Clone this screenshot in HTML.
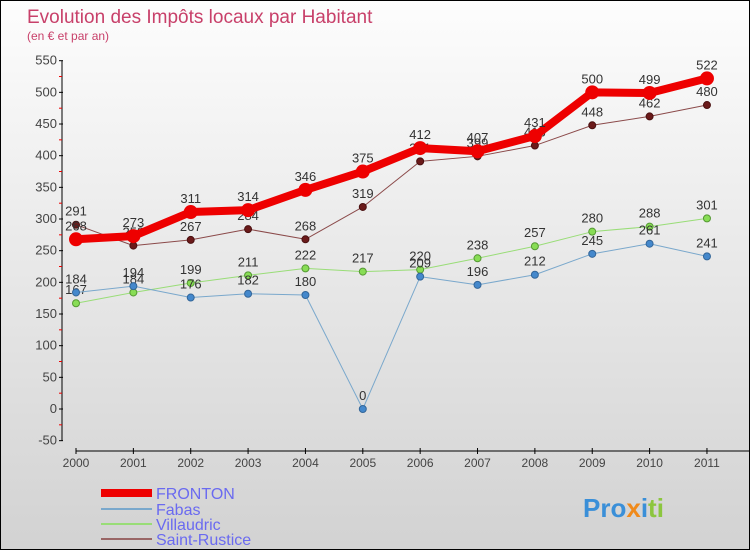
<!DOCTYPE html>
<html><head><meta charset="utf-8"><style>
body{margin:0}
#c{width:750px;height:550px;position:relative;overflow:hidden;background:linear-gradient(#fdfdfd,#d2d2d2);border:1px solid #000;box-sizing:border-box;font-family:"Liberation Sans",sans-serif}
</style></head><body>
<div id="c">
<svg width="750" height="550" id="svg" style="position:absolute;left:0;top:0" font-family="Liberation Sans, sans-serif">
<text x="26" y="22" font-size="19" fill="#c8406a">Evolution des Impôts locaux par Habitant</text>
<text x="26" y="39" font-size="12" fill="#c8406a">(en € et par an)</text>
<g id="axes"></g><g id="series"></g>
<g font-size="16" fill="#6a6af0">
<rect x="100" y="488" width="51" height="8" fill="#e00"/>
<text x="155" y="498">FRONTON</text>
<rect x="100" y="507" width="51" height="2" fill="#7aa8cc"/>
<text x="155" y="514">Fabas</text>
<rect x="100" y="522" width="51" height="2" fill="#99dd77"/>
<text x="155" y="529">Villaudric</text>
<rect x="100" y="537" width="51" height="2" fill="#996666"/>
<text x="155" y="544">Saint-Rustice</text>
</g>
<text x="582" y="516" font-size="26" font-weight="bold"><tspan fill="#3a8fd8">Pro</tspan><tspan fill="#f08a1a">x</tspan><tspan fill="#3a8fd8">i</tspan><tspan fill="#8cc63f">ti</tspan></text>
</svg>
</div>
<script>
const years=["2000","2001","2002","2003","2004","2005","2006","2007","2008","2009","2010","2011"];
const fronton=[268,273,311,314,346,375,412,407,431,500,499,522];
const fabas=[184,194,176,182,180,0,209,196,212,245,261,241];
const villaudric=[167,184,199,211,222,217,220,238,257,280,288,301];
const saintRustice=[291,258,267,284,268,319,391,399,416,448,462,480];
const yTicks=[-50,0,50,100,150,200,250,300,350,400,450,500,550];
const NS="http://www.w3.org/2000/svg";
function X(i){return 75+i*57.36;}
function Y(v){return 408-v*0.6333;}
function mk(t,a,p){const e=document.createElementNS(NS,t);for(const k in a)e.setAttribute(k,a[k]);p.appendChild(e);return e;}
const ax=document.getElementById('axes');
let l=mk('line',{x1:61,y1:Y(550),x2:61,y2:Y(-50),stroke:'#000','stroke-width':1},ax);


l=mk('line',{x1:75,y1:450,x2:750,y2:450,stroke:'#000','stroke-width':1},ax);


yTicks.forEach((v,i)=>{
 mk('line',{x1:58,y1:Y(v),x2:62,y2:Y(v),stroke:'#000'},ax);
 if(i<yTicks.length-1) mk('line',{x1:58,y1:Y(v+25),x2:61,y2:Y(v+25),stroke:'#e00'},ax);
 const t=mk('text',{x:56,y:Y(v)+4,'font-size':13,fill:'#444','text-anchor':'end'},ax);
 t.textContent=v;
 
 
});
years.forEach((y,i)=>{
 mk('line',{x1:X(i),y1:447,x2:X(i),y2:453,stroke:'#000'},ax);
 const t=mk('text',{x:X(i),y:466,'font-size':12,fill:'#444','text-anchor':'middle'},ax);
 t.textContent=y;
 
 
});
const sg=document.getElementById('series');
function series(name,d,color,w,r,dot,stroke){
 const g=mk('g',{},sg);
 
 
 const p=mk('polyline',{points:d.map((v,i)=>X(i)+','+Y(v)).join(' '),fill:'none',stroke:color,'stroke-width':w,'stroke-linejoin':'round'},g);
 
 
 d.forEach((v,i)=>{
  const c=mk('circle',{cx:X(i),cy:Y(v),r:r,fill:dot,stroke:stroke,'stroke-width':1},g);
  
  
  const t=mk('text',{x:X(i),y:Y(v)-9,'font-size':13,fill:'#333','text-anchor':'middle'},g);
  t.textContent=v;
  
  
 });
}
series('saint-rustice',saintRustice,'#8b4a4a',1,3.5,'#6b1a1a','#4a1010');
series('villaudric',villaudric,'#99dd77',1,3.5,'#88dd55','#559933');
series('fabas',fabas,'#7aa8cc',1,3.5,'#4488cc','#336699');
series('fronton',fronton,'#ee0000',8,6.5,'#ee0000','#ee0000');
</script>
</body></html>
